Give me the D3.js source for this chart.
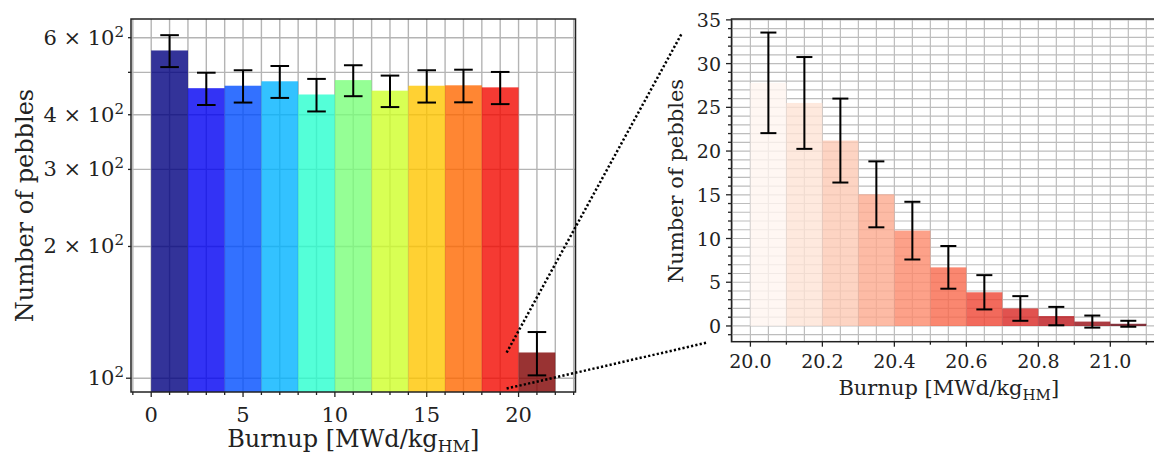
<!DOCTYPE html>
<html><head><meta charset="utf-8">
<script src="https://cdn.jsdelivr.net/npm/d3@7"></script>
<style>
body{margin:0;background:#fff}
svg{display:block}
text{font-family:"DejaVu Serif",serif;fill:#222}
</style>
</head><body>
<svg id="c" width="1154" height="456"></svg>
<script>
// ---------- data ----------
const leftBinStarts = [0, 2, 4, 6, 8, 10, 12, 14, 16, 18, 20];
const leftBinWidth = 2;
const leftCounts = [561, 460, 466, 477, 445, 480, 454, 466, 467, 462, 114.5];
const leftErrors = [47, 39, 39.5, 40, 38, 39, 37.5, 39.5, 40, 39, 13];
const leftXTicks = [0, 5, 10, 15, 20];
const leftYTicks = [100, 200, 300, 400, 600];
const leftYTickMantissas = ["", "2", "3", "4", "6"];

const rightBinStarts = [20.0, 20.1, 20.2, 20.3, 20.4, 20.5, 20.6, 20.7, 20.8, 20.9, 21.0];
const rightBinWidth = 0.1;
const rightCounts = [27.8, 25.5, 21.2, 15.05, 10.9, 6.7, 3.85, 2.0, 1.13, 0.5, 0.25];
const rightErrors = [5.75, 5.25, 4.8, 3.77, 3.3, 2.44, 1.96, 1.41, 1.05, 0.69, 0.34];
const rightXTicks = [20.0, 20.2, 20.4, 20.6, 20.8, 21.0];
const rightYTicks = [0, 5, 10, 15, 20, 25, 30, 35];

const xLabelMain = "Burnup [MWd/kg";
const xLabelSub = "HM";
const yLabel = "Number of pebbles";

// connector anchors (left data coords -> right data coords)
const connFrom = [[19.35, 114.4], [19.35, 94.7]];
const connTo = [[19.81, 33.5], [19.88, -1.9]];

// ---------- helpers ----------
const jetR = d3.scaleLinear().domain([0, 0.35, 0.66, 0.89, 1]).range([0, 0, 1, 1, 0.5]).clamp(true);
const jetG = d3.scaleLinear().domain([0, 0.125, 0.375, 0.64, 0.91, 1]).range([0, 0, 1, 1, 0, 0]).clamp(true);
const jetB = d3.scaleLinear().domain([0, 0.11, 0.34, 0.65, 1]).range([0.5, 1, 1, 0, 0]).clamp(true);
const jet = t => d3.rgb(jetR(t) * 255, jetG(t) * 255, jetB(t) * 255).toString();

const svg = d3.select("#c");

// ---------- left panel ----------
const L = {x0: 131, x1: 575.5, y0: 19, y1: 392};
const xL = d3.scaleLinear().domain([-1.1, 23.1]).range([L.x0, L.x1]);
const yL = d3.scaleLog().domain([93, 662]).range([L.y1, L.y0]);

const gL = svg.append("g");
// grid
gL.selectAll("line.vg").data(d3.range(-1, 24)).join("line")
  .attr("x1", d => xL(d)).attr("x2", d => xL(d)).attr("y1", L.y0).attr("y2", L.y1)
  .attr("stroke", "#b4b4b4").attr("stroke-width", 1.4);
gL.selectAll("line.hg").data(d3.range(100, 700, 100)).join("line")
  .attr("x1", L.x0).attr("x2", L.x1).attr("y1", d => yL(d)).attr("y2", d => yL(d))
  .attr("stroke", "#b4b4b4").attr("stroke-width", 1.4);
// bars
gL.selectAll("rect.bar").data(leftCounts).join("rect")
  .attr("x", (d, i) => xL(leftBinStarts[i]))
  .attr("width", (d, i) => xL(leftBinStarts[i] + leftBinWidth) - xL(leftBinStarts[i]))
  .attr("y", d => yL(d)).attr("height", d => L.y1 - yL(d))
  .attr("fill", (d, i) => jet(i / (leftCounts.length - 1))).attr("fill-opacity", 0.8);
// error bars
leftCounts.forEach((d, i) => {
  const cx = xL(leftBinStarts[i] + leftBinWidth / 2);
  const t = yL(d + leftErrors[i]), b = yL(d - leftErrors[i]);
  gL.append("line").attr("x1", cx).attr("x2", cx).attr("y1", t).attr("y2", b).attr("stroke", "#000").attr("stroke-width", 2);
  [t, b].forEach(y => gL.append("line").attr("x1", cx - 9.3).attr("x2", cx + 9.3).attr("y1", y).attr("y2", y).attr("stroke", "#000").attr("stroke-width", 2));
});
// spines
gL.append("rect").attr("x", L.x0).attr("y", L.y0).attr("width", L.x1 - L.x0).attr("height", L.y1 - L.y0)
  .attr("fill", "none").attr("stroke", "#222").attr("stroke-width", 1.5);
// x ticks
gL.selectAll("line.xminor").data(d3.range(-1, 24)).join("line")
  .attr("x1", d => xL(d)).attr("x2", d => xL(d)).attr("y1", L.y1).attr("y2", d => L.y1 + (leftXTicks.includes(d) ? 5 : 3))
  .attr("stroke", "#222").attr("stroke-width", 1.3);
gL.selectAll("text.xt").data(leftXTicks).join("text")
  .attr("x", d => xL(d)).attr("y", 422).attr("text-anchor", "middle").attr("font-size", 21).text(d => d);
// y ticks
gL.selectAll("line.yt").data(d3.range(100, 700, 100)).join("line")
  .attr("x1", d => L.x0 - (d === 100 ? 5 : 3)).attr("x2", L.x0).attr("y1", d => yL(d)).attr("y2", d => yL(d))
  .attr("stroke", "#222").attr("stroke-width", 1.3);
leftYTicks.forEach((v, i) => {
  const t = gL.append("text").attr("x", 124).attr("y", yL(v) + 7).attr("text-anchor", "end").attr("font-size", 21);
  const m = leftYTickMantissas[i];
  t.append("tspan").text(m ? m + " \u00d7 10" : "10");
  t.append("tspan").attr("dy", -8).attr("font-size", 15).text("2");
});
// labels
{
  const t = gL.append("text").attr("x", (L.x0 + L.x1) / 2).attr("y", 447).attr("text-anchor", "middle").attr("font-size", 24);
  t.append("tspan").text(xLabelMain);
  t.append("tspan").attr("dy", 5).attr("font-size", 17).text(xLabelSub);
  t.append("tspan").attr("dy", -5).text("]");
  gL.append("text").attr("transform", `translate(33,${(L.y0 + 320 + 72) / 2})rotate(-90)`)
    .attr("text-anchor", "middle").attr("font-size", 24).text(yLabel);
}

// ---------- right panel ----------
const R = {x0: 731.5, x1: 1166.1, y0: 19, y1: 341.7};
const xR = d3.scaleLinear().domain([19.9475, 21.155]).range([R.x0, R.x1]);
const yR = d3.scaleLinear().domain([-1.8, 35.1]).range([R.y1, R.y0]);

const gR = svg.append("g");
gR.selectAll("line.vg").data(d3.range(0, 25)).join("line")
  .attr("x1", d => xR(19.95 + d * 0.05)).attr("x2", d => xR(19.95 + d * 0.05)).attr("y1", R.y0).attr("y2", R.y1)
  .attr("stroke", "#bdbdbd").attr("stroke-width", 1.2);
gR.selectAll("line.hg").data(d3.range(-1, 36)).join("line")
  .attr("x1", R.x0).attr("x2", R.x1).attr("y1", d => yR(d)).attr("y2", d => yR(d))
  .attr("stroke", "#bdbdbd").attr("stroke-width", 1.2);
gR.selectAll("rect.bar").data(rightCounts).join("rect")
  .attr("x", (d, i) => xR(rightBinStarts[i]))
  .attr("width", (d, i) => xR(rightBinStarts[i] + rightBinWidth) - xR(rightBinStarts[i]))
  .attr("y", d => yR(d)).attr("height", d => yR(0) - yR(d))
  .attr("fill", (d, i) => d3.interpolateReds(i / (rightCounts.length - 1))).attr("fill-opacity", 0.8);
rightCounts.forEach((d, i) => {
  const cx = xR(rightBinStarts[i] + rightBinWidth / 2);
  const t = yR(d + rightErrors[i]), b = yR(d - rightErrors[i]);
  gR.append("line").attr("x1", cx).attr("x2", cx).attr("y1", t).attr("y2", b).attr("stroke", "#000").attr("stroke-width", 2);
  [t, b].forEach(y => gR.append("line").attr("x1", cx - 8).attr("x2", cx + 8).attr("y1", y).attr("y2", y).attr("stroke", "#000").attr("stroke-width", 2));
});
gR.append("rect").attr("x", R.x0).attr("y", R.y0).attr("width", R.x1 - R.x0).attr("height", R.y1 - R.y0)
  .attr("fill", "none").attr("stroke", "#222").attr("stroke-width", 1.5);
// x ticks
gR.selectAll("line.xt").data(d3.range(0, 12)).join("line")
  .attr("x1", d => xR(20 + d * 0.1)).attr("x2", d => xR(20 + d * 0.1))
  .attr("y1", R.y1).attr("y2", d => R.y1 + (d % 2 === 0 ? 5 : 3))
  .attr("stroke", "#222").attr("stroke-width", 1.3);
gR.selectAll("text.xt").data(rightXTicks).join("text")
  .attr("x", d => xR(d)).attr("y", 368).attr("text-anchor", "middle").attr("font-size", 19).text(d => d.toFixed(1));
// y ticks
gR.selectAll("line.yt").data(d3.range(-1, 36)).join("line")
  .attr("x1", d => R.x0 - (d % 5 === 0 ? 5.5 : 3.5)).attr("x2", R.x0).attr("y1", d => yR(d)).attr("y2", d => yR(d))
  .attr("stroke", "#222").attr("stroke-width", 1.3);
gR.selectAll("text.yt").data(rightYTicks).join("text")
  .attr("x", 721).attr("y", d => yR(d) + 7).attr("text-anchor", "end").attr("font-size", 19).text(d => d);
{
  const t = gR.append("text").attr("x", (R.x0 + R.x1) / 2).attr("y", 395).attr("text-anchor", "middle").attr("font-size", 21);
  t.append("tspan").text(xLabelMain);
  t.append("tspan").attr("dy", 4.5).attr("font-size", 15).text(xLabelSub);
  t.append("tspan").attr("dy", -4.5).text("]");
  gR.append("text").attr("transform", `translate(683,181)rotate(-90)`)
    .attr("text-anchor", "middle").attr("font-size", 21).text(yLabel);
}

// ---------- connectors ----------
connFrom.forEach((p, i) => {
  svg.append("line")
    .attr("x1", xL(p[0])).attr("y1", yL(p[1]))
    .attr("x2", xR(connTo[i][0])).attr("y2", yR(connTo[i][1]))
    .attr("stroke", "#000").attr("stroke-width", 2.5).attr("stroke-dasharray", "2.2,2.2");
});
</script>
</body></html>
